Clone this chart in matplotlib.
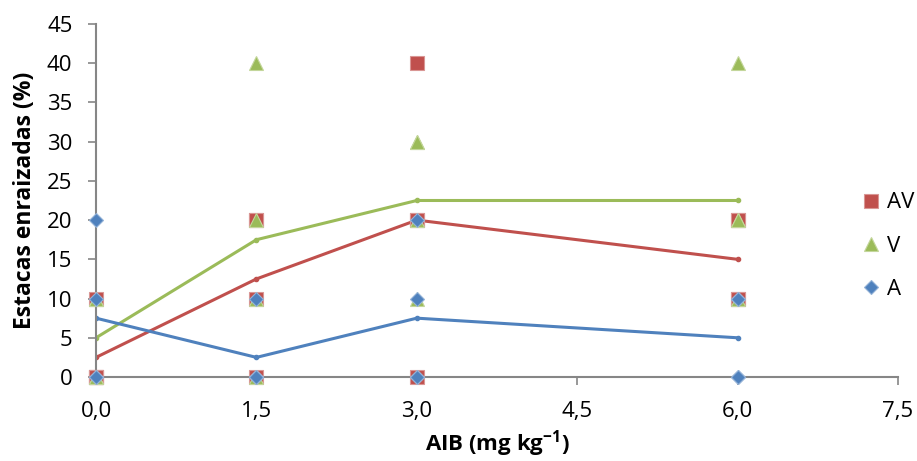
import matplotlib.pyplot as plt
from matplotlib.lines import Line2D

plt.rcParams['font.family'] = ['Open Sans', 'DejaVu Sans']
plt.rcParams['mathtext.fontset'] = 'custom'
plt.rcParams['mathtext.bf'] = 'Open Sans:bold'
plt.rcParams['mathtext.rm'] = 'Open Sans'

# doses of AIB (mg kg-1)
doses = [0.0, 1.5, 3.0, 6.0]

# replicate values (% rooted cuttings), four per dose
av_x = [0.0, 0.0, 0.0, 0.0, 1.5, 1.5, 1.5, 1.5, 3.0, 3.0, 3.0, 3.0, 6.0, 6.0, 6.0, 6.0]
av_y = [0, 0, 0, 10, 0, 10, 20, 20, 0, 20, 20, 40, 10, 10, 20, 20]
v_x = av_x
v_y = [0, 0, 10, 10, 0, 10, 20, 40, 10, 20, 30, 30, 10, 20, 20, 40]
a_x = av_x
a_y = [0, 0, 10, 20, 0, 0, 0, 10, 0, 0, 10, 20, 0, 0, 10, 10]

# means per dose
av_mean = [2.5, 12.5, 20.0, 15.0]
v_mean = [5.0, 17.5, 22.5, 22.5]
a_mean = [7.5, 2.5, 7.5, 5.0]

RED = '#C0504D'
GREEN = '#9BBB59'
BLUE = '#4F81BD'

fig = plt.figure(figsize=(9.17, 4.61), dpi=100)
ax = fig.add_axes([0.1047, 0.1822, 0.8746, 0.7658])

ax.plot(doses, av_mean, color=RED, lw=2.2, marker='o', ms=3, zorder=2)
ax.plot(doses, v_mean, color=GREEN, lw=2.2, marker='o', ms=3, zorder=2)
ax.plot(doses, a_mean, color=BLUE, lw=2.2, marker='o', ms=3, zorder=2)

sq = dict(ls='none', marker='s', ms=9.5, color=RED, mec='#D99694', mew=0.8)
tri = dict(ls='none', marker='^', ms=10, color=GREEN, mec='#C3D69B', mew=0.8)
dia = dict(ls='none', marker='D', ms=7.5, color=BLUE, mec='#95B3D7', mew=0.8)

ax.plot(av_x, av_y, zorder=3, clip_on=False, **sq)
ax.plot(v_x, v_y, zorder=4, clip_on=False, **tri)
ax.plot(a_x, a_y, zorder=5, clip_on=False, **dia)

ax.set_xlim(0, 7.5)
ax.set_ylim(0, 45)
ax.set_xticks([0, 1.5, 3.0, 4.5, 6.0, 7.5])
ax.set_xticklabels(['0,0', '1,5', '3,0', '4,5', '6,0', '7,5'])
ax.set_yticks(range(0, 50, 5))

for side in ['top', 'right']:
    ax.spines[side].set_visible(False)
for side in ['left', 'bottom']:
    ax.spines[side].set_color('#868686')
    ax.spines[side].set_linewidth(1.5)

ax.tick_params(axis='y', direction='out', length=6, width=1.2, color='#868686',
               labelsize=16, pad=11)
ax.tick_params(axis='x', direction='out', length=6, width=1.2, color='#868686',
               labelsize=16, pad=11)

ax.set_ylabel('Estacas enraizadas (%)', fontsize=16.5, fontweight='bold', labelpad=7)
ax.set_xlabel(r'AIB (mg kg$^{\mathbf{-1}}$)', fontsize=16, fontweight='bold', labelpad=5)

handles = [Line2D([], [], **sq), Line2D([], [], **tri), Line2D([], [], **dia)]
ax.legend(handles, ['AV', 'V', 'A'], loc='center left', bbox_to_anchor=(0.958, 0.371),
          frameon=False, fontsize=16, handlelength=0.6, handletextpad=0.4,
          labelspacing=1.0, borderaxespad=0, borderpad=0)

fig.savefig('out.png', dpi=100)
